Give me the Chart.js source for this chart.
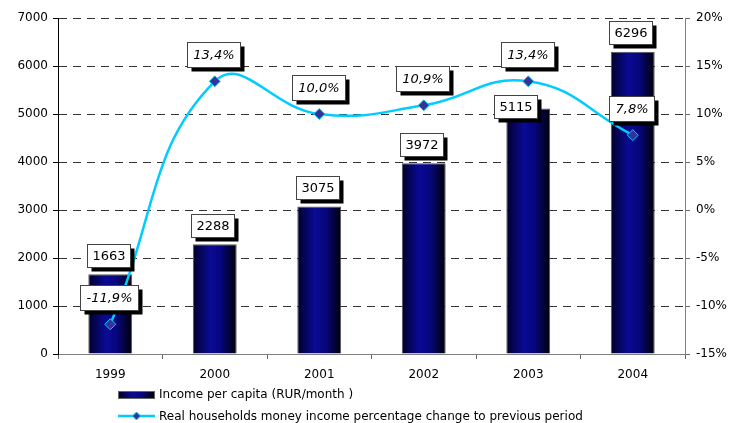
<!DOCTYPE html>
<html>
<head>
<meta charset="utf-8">
<script src="https://cdn.jsdelivr.net/npm/chart.js@4"></script>
<style>
  html, body { margin: 0; padding: 0; background: #fff; }
  #wrap { width: 733px; height: 423px; position: relative; }
</style>
</head>
<body>
<div id="wrap"><canvas id="myChart"></canvas></div>
<script>
const years = ['1999', '2000', '2001', '2002', '2003', '2004'];
const incomePerCapita = [1663, 2288, 3075, 3972, 5115, 6296];
const realIncomeChange = [-11.9, 13.4, 10.0, 10.9, 13.4, 7.8];

const barLabel = 'Income per capita (RUR/month )';
const lineLabel = 'Real households money income percentage change to previous period';

const CYAN = '#00CCFF';
const DIAMOND = '#333399';
const BAR_PCT = 0.42;

Chart.defaults.font.family = '"DejaVu Sans", Verdana, sans-serif';
Chart.defaults.font.size = 12;
Chart.defaults.color = '#000';

function pct(v) {
    return v.toFixed(1).replace('.', ',') + '%';
}

function barGradient(ctx, left, right) {
    const g = ctx.createLinearGradient(left, 0, right, 0);
    g.addColorStop(0, '#00002a');
    g.addColorStop(0.4, '#0a0a96');
    g.addColorStop(0.65, '#06067a');
    g.addColorStop(1, '#000005');
    return g;
}

function barFill(context) {
    const chart = context.chart;
    const xs = chart.scales.x;
    if (!xs || context.dataIndex === undefined) return '#000080';
    const cx = xs.getPixelForValue(context.dataIndex);
    const half = (xs.width / years.length) * BAR_PCT / 2;
    if (!isFinite(cx) || !isFinite(half) || half <= 0) return '#000080';
    return barGradient(chart.ctx, cx - half, cx + half);
}

function drawBox(ctx, text, cx, cy, italic) {
    ctx.save();
    ctx.font = (italic ? 'italic ' : '') + '13px "DejaVu Sans", Verdana, sans-serif';
    const w = Math.round(ctx.measureText(text).width + (italic ? 12 : 10));
    const h = italic ? 25 : 23;
    const x = Math.round(cx - w / 2) + 0.5;
    const y = Math.round(cy - h / 2) + 0.5;
    ctx.fillStyle = '#000';
    ctx.fillRect(x + 4, y + 4, w, h);
    ctx.fillStyle = '#fff';
    ctx.fillRect(x, y, w, h);
    ctx.strokeStyle = '#444';
    ctx.lineWidth = 1;
    ctx.strokeRect(x, y, w, h);
    ctx.fillStyle = '#000';
    ctx.textAlign = 'center';
    ctx.textBaseline = 'middle';
    ctx.fillText(text, x + w / 2, y + h / 2 + 1);
    ctx.restore();
}

const labelBoxes = {
    id: 'labelBoxes',
    afterDatasetsDraw(chart) {
        const ctx = chart.ctx;
        chart.getDatasetMeta(0).data.forEach((bar, i) => {
            // the 2003 label sits lower and to the left, clear of the line label
            if (i === 4) drawBox(ctx, String(incomePerCapita[i]), bar.x - 13, bar.y - 2, false);
            else drawBox(ctx, String(incomePerCapita[i]), bar.x - 2, bar.y - 19, false);
        });
        chart.getDatasetMeta(1).data.forEach((pt, i) => {
            drawBox(ctx, pct(realIncomeChange[i]), pt.x - 1, pt.y - 27, true);
        });
    }
};

const legendBlock = {
    id: 'legendBlock',
    afterDraw(chart) {
        const ctx = chart.ctx;
        ctx.save();
        // bar swatch
        ctx.fillStyle = barGradient(ctx, 118, 155);
        ctx.fillRect(118, 391, 37, 8);
        ctx.strokeStyle = '#666';
        ctx.lineWidth = 1;
        ctx.strokeRect(118.5, 391.5, 36, 7);
        // line swatch
        ctx.strokeStyle = CYAN;
        ctx.lineWidth = 2.5;
        ctx.beginPath();
        ctx.moveTo(118, 416);
        ctx.lineTo(155, 416);
        ctx.stroke();
        ctx.fillStyle = DIAMOND;
        ctx.lineWidth = 1;
        ctx.beginPath();
        ctx.moveTo(136.5, 412);
        ctx.lineTo(140.5, 416);
        ctx.lineTo(136.5, 420);
        ctx.lineTo(132.5, 416);
        ctx.closePath();
        ctx.fill();
        ctx.stroke();
        // texts
        ctx.fillStyle = '#000';
        ctx.font = '12px "DejaVu Sans", Verdana, sans-serif';
        ctx.textBaseline = 'middle';
        ctx.textAlign = 'left';
        ctx.fillText(barLabel, 159, 395);
        ctx.fillText(lineLabel, 159, 417);
        ctx.restore();
    }
};

new Chart(document.getElementById('myChart'), {
    type: 'bar',
    data: {
        labels: years,
        datasets: [{
            type: 'bar',
            label: barLabel,
            data: incomePerCapita,
            yAxisID: 'y',
            order: 1,
            backgroundColor: barFill,
            borderColor: '#555',
            borderWidth: 1,
            barPercentage: BAR_PCT,
            categoryPercentage: 1
        }, {
            type: 'line',
            label: lineLabel,
            data: realIncomeChange,
            yAxisID: 'y1',
            order: 0,
            borderColor: CYAN,
            borderWidth: 2.5,
            tension: 0.45,
            pointStyle: 'rectRot',
            pointRadius: 5.5,
            pointBackgroundColor: DIAMOND,
            pointBorderColor: CYAN,
            pointBorderWidth: 1
        }]
    },
    options: {
        responsive: true,
        maintainAspectRatio: false,
        animation: false,
        layout: { padding: { top: 18, bottom: 37, left: 0, right: 0 } },
        plugins: {
            legend: { display: false },
            tooltip: { enabled: false }
        },
        scales: {
            x: {
                offset: true,
                afterFit(s) { s.height = 32; },
                grid: {
                    offset: true,
                    drawOnChartArea: false,
                    drawTicks: true,
                    tickLength: 5,
                    tickColor: '#666'
                },
                border: { color: '#808080', width: 1 },
                ticks: { padding: 9 }
            },
            y: {
                position: 'left',
                min: 0,
                max: 7000,
                afterFit(s) { s.width = 58; },
                ticks: { stepSize: 1000, padding: 5, callback: v => String(v) },
                grid: {
                    color: c => (c.tick && c.tick.value === 0) ? 'rgba(0,0,0,0)' : '#333',
                    tickColor: '#000',
                    tickLength: 5,
                    lineWidth: 1
                },
                border: { color: '#000', width: 1, dash: [8, 6] }
            },
            y1: {
                position: 'right',
                min: -15,
                max: 20,
                afterFit(s) { s.width = 48; },
                ticks: { stepSize: 5, padding: 6, callback: v => v + '%' },
                grid: {
                    drawOnChartArea: false,
                    tickColor: '#666',
                    tickLength: 5
                },
                border: { color: '#808080', width: 1 }
            }
        }
    },
    plugins: [labelBoxes, legendBlock]
});
</script>
</body>
</html>
